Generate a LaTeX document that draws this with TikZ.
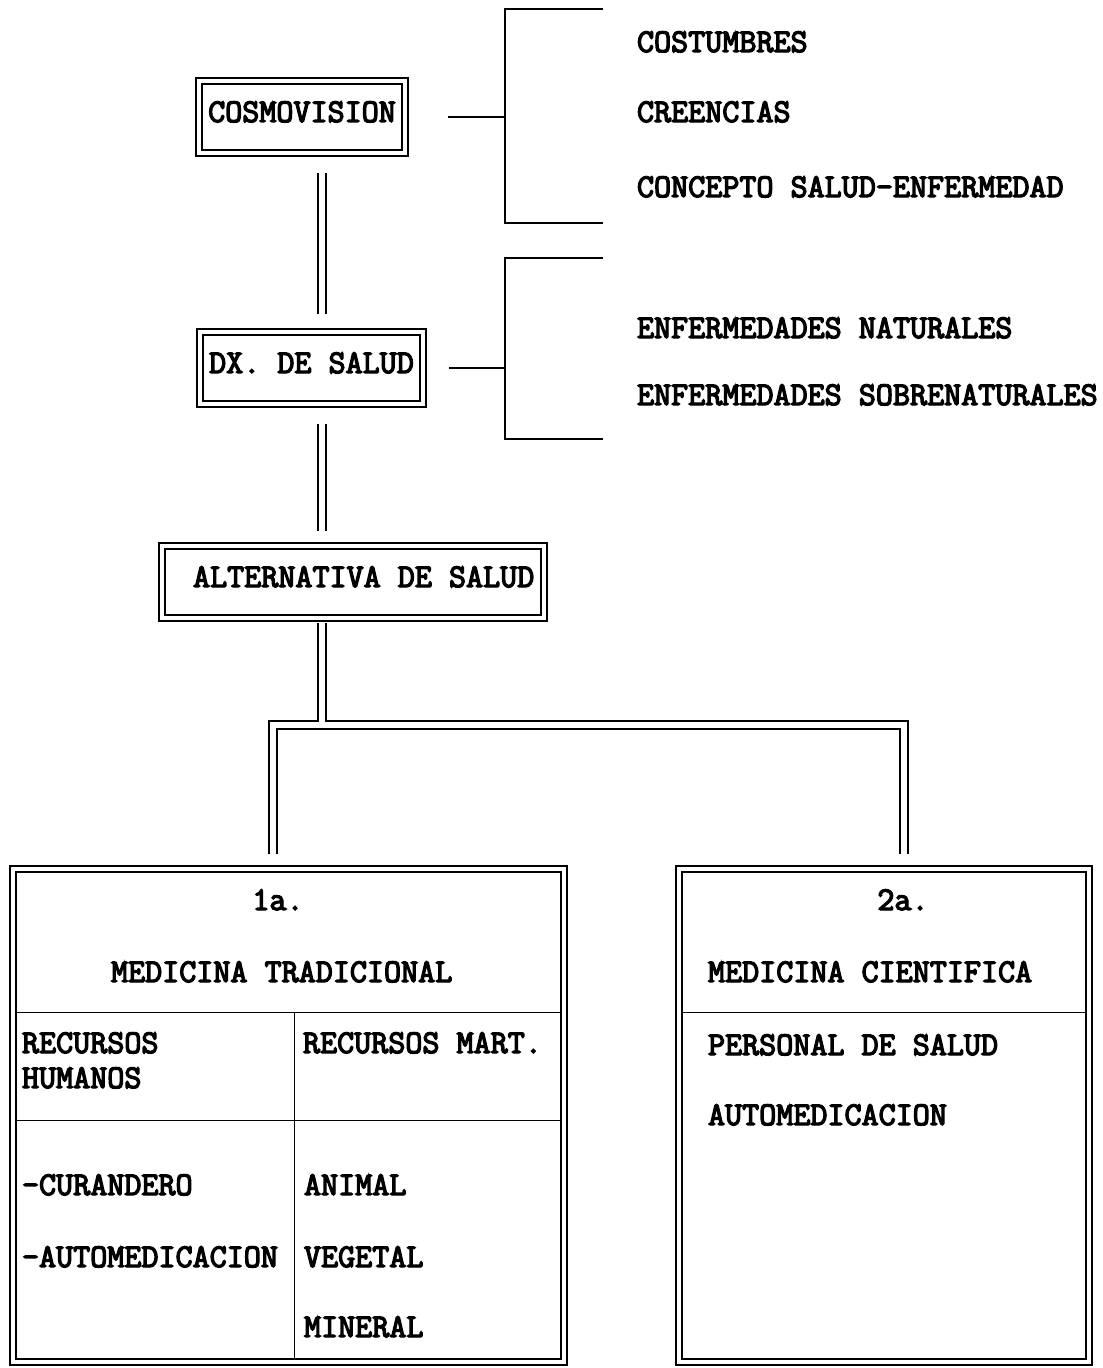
\documentclass[tikz,border=0pt]{standalone}
\usepackage{fontspec}
\setmainfont[FakeBold=4]{Latin Modern Mono}
\usetikzlibrary{backgrounds}

\tikzset{every picture/.style={line width=1.5pt}}
\tikzset{
  dblbox/.style={draw, double, double distance=3pt, line width=1.5pt, inner sep=0pt, text depth=8pt},
  dbl/.style={double, double distance=4.5pt, line width=1.5pt},
  lbl/.style={anchor=base west, inner sep=0pt},
}

\begin{document}
\begin{tikzpicture}[x=0.75pt,y=0.75pt,yscale=-1,xscale=1,font=\fontsize{24.85}{28}\selectfont]
\useasboundingbox (0,0) rectangle (1103,1368);

% Boxes
\node[dblbox, minimum width=154.5pt, minimum height=54pt] (cosmo) at (302,117) {COSMOVISION};
\node[dblbox, minimum width=167.25pt, minimum height=54pt] (dx) at (311.5,368) {DX. DE SALUD};
\node[dblbox, minimum width=286.5pt, minimum height=54pt] (alt) at (353,582) {\hspace*{16pt}ALTERNATIVA DE SALUD};
\node[dblbox, minimum width=413.25pt, minimum height=369.75pt] (trad) at (288.5,1115.5) {};
\node[dblbox, minimum width=307.5pt, minimum height=369.75pt] (cien) at (884,1115.5) {};

% Spine and branches
\coordinate (spine) at (322,0);
\coordinate (busL) at (273,725);
\coordinate (busR) at (904,725);
\draw[dbl, shorten <=14.25pt, shorten >=12.75pt] (cosmo.south -| spine) -- (dx.north -| spine);
\draw[dbl, shorten <=14.25pt, shorten >=10.5pt] (dx.south -| spine) -- (alt.north -| spine);
\draw[dbl, shorten <=10.5pt, shorten >=10.5pt] (trad.north -| busL) -- (busL) -- (busR) -- (cien.north -| busR);
\draw[dbl, shorten <=3pt, shorten >=2.25pt] (alt.south -| spine) -- (busL -| spine);

% Brackets
\coordinate (brA) at (505,117);
\coordinate (brB) at (505,368);
\draw[shorten <=31.5pt] (cosmo.east) -- (brA);
\draw (603,9) -| (brA) |- (603,223);
\draw[shorten <=18.75pt] (dx.east) -- (brB);
\draw (603,258) -| (brB) |- (603,439);

% Text Nodes
\node[lbl] (cost) at (636,52) {COSTUMBRES};
\node[lbl] (cree) at (636,122) {CREENCIAS};
\node[lbl] (conc) at (636,197) {CONCEPTO SALUD-ENFERMEDAD};
\node[lbl] (enat) at (636,338) {ENFERMEDADES NATURALES};
\node[lbl] (esob) at (636,405) {ENFERMEDADES SOBRENATURALES};

% Table lines
\begin{scope}[on background layer]
\draw (trad.west |- 0,1012) -- (trad.east |- 0,1012);
\draw (trad.west |- 0,1120) -- (trad.east |- 0,1120);
\draw (294,1012) -- (294,0 |- trad.south);
\draw (cien.west |- 0,1012) -- (cien.east |- 0,1012);
\end{scope}

% Medicina tradicional
\node[anchor=base, inner sep=0pt] (t1a) at (278,910) {1a.};
\node[lbl] (tmed) at (110,982) {MEDICINA TRADICIONAL};
\node[lbl] (trh1) at (21,1053) {RECURSOS};
\node[lbl] (trh2) at (21,1088) {HUMANOS};
\node[lbl] (trm) at (302,1053) {RECURSOS MART.};
\node[lbl] (tcur) at (21,1195) {-CURANDERO};
\node[lbl] (taut) at (21,1267) {-AUTOMEDICACION};
\node[lbl] (tani) at (303,1195) {ANIMAL};
\node[lbl] (tveg) at (303,1267) {VEGETAL};
\node[lbl] (tmin) at (303,1337) {MINERAL};

% Medicina cientifica
\node[anchor=base, inner sep=0pt] (c2a) at (903,910) {2a.};
\node[lbl] (cmed) at (707,982) {MEDICINA CIENTIFICA};
\node[lbl] (cper) at (707,1055) {PERSONAL DE SALUD};
\node[lbl] (caut) at (707,1125) {AUTOMEDICACION};

\end{tikzpicture}
\end{document}
